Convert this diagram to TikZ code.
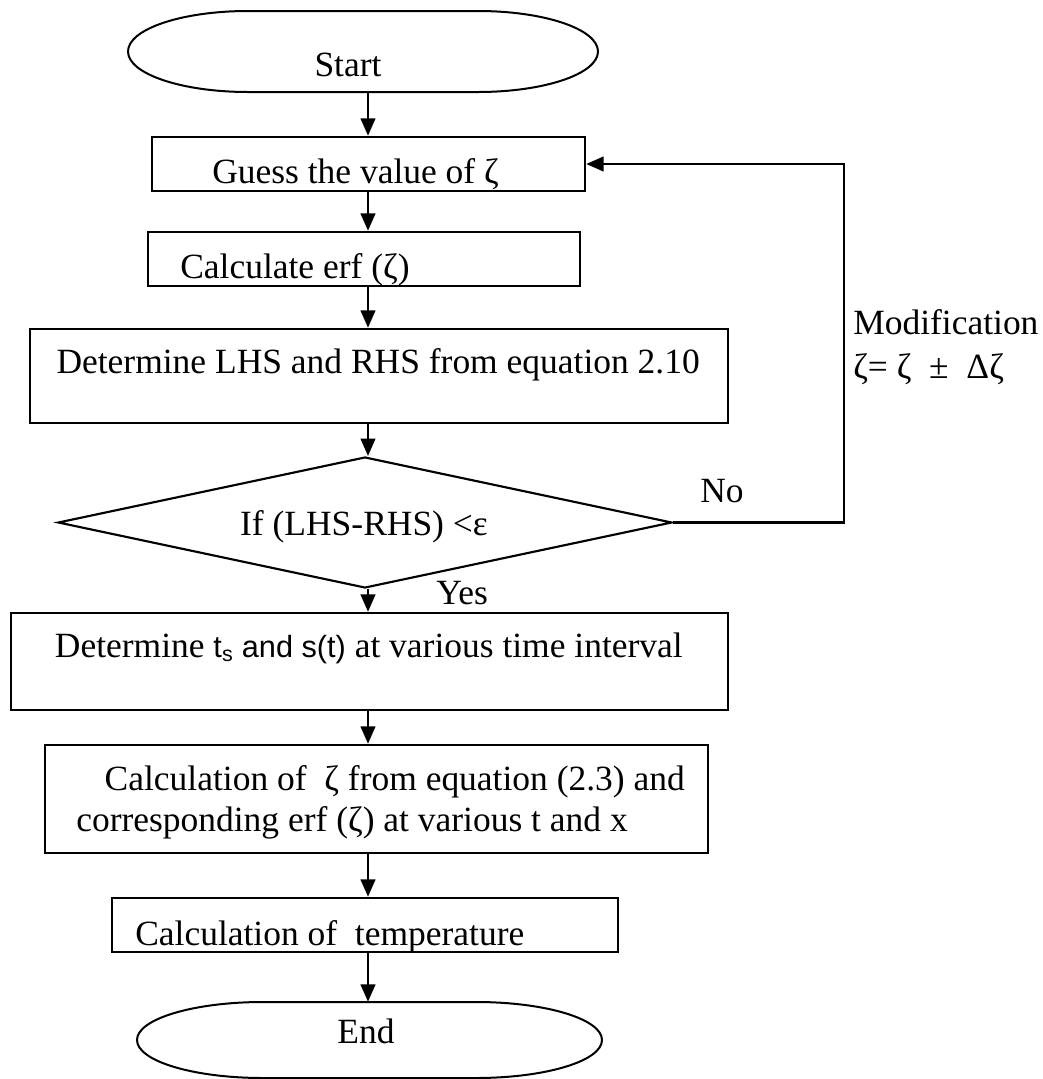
\documentclass[tikz,border=0pt]{standalone}
\usepackage{fontspec}
\setmainfont{Liberation Serif}
\newfontfamily\sansf{Liberation Sans}
\usetikzlibrary{shapes.geometric,arrows.meta}
\begin{document}
\begin{tikzpicture}[x=0.75pt,y=0.75pt,
  box/.style={draw, rectangle, line width=1.9pt, inner sep=0pt},
  term/.style={draw, line width=1.5pt},
  dec/.style={draw, diamond, line width=1.6pt, inner sep=0pt},
  ghost/.style={rectangle, draw=none, inner sep=0pt},
  txt/.style={font=\fontsize{26.6}{36}\selectfont, inner sep=0pt},
  arr/.style={line width=1.6pt, -{Triangle[length=13pt,width=11pt]}}]
\useasboundingbox (0,0) rectangle (1043,-1079);
\coordinate (axis) at (368,0);

% terminals
\node[ghost, minimum width=352.5pt, minimum height=60.75pt] (start) at (363,-51.5) {};
\draw[term] (248,-11) -- (478,-11) arc[start angle=90,end angle=-90,x radius=120,y radius=40.5]
  -- (248,-92) arc[start angle=270,end angle=90,x radius=120,y radius=40.5] -- cycle;
\node[ghost, minimum width=348.75pt, minimum height=57pt] (end) at (369.5,-1040) {};
\draw[term] (263,-1002) -- (476,-1002) arc[start angle=90,end angle=-90,x radius=126,y radius=38]
  -- (263,-1078) arc[start angle=270,end angle=90,x radius=126,y radius=38] -- cycle;

% boxes
\node[box, minimum width=324.75pt, minimum height=40.5pt] (b1) at (368.5,-164) {};
\node[box, minimum width=324pt, minimum height=40.5pt] (b2) at (364,-259) {};
\node[box, minimum width=523.5pt, minimum height=70.5pt] (b3) at (379,-376) {};
\node[dec, minimum width=460.5pt, minimum height=98.25pt] (dia) at (365,-522.5) {};
\node[box, minimum width=537.75pt, minimum height=72.75pt] (b4) at (369.5,-661.5) {};
\node[box, minimum width=497.25pt, minimum height=81pt] (b5) at (376.5,-799) {};
\node[box, minimum width=379.5pt, minimum height=40.5pt] (b6) at (365,-925) {};

% texts
\node[txt, anchor=base] (tstart) at (348,-76) {Start};
\node[txt, anchor=base west] (t1) at (212,-183) {Guess the value of ζ};
\node[txt, anchor=base west] (t2) at (180,-278) {Calculate erf (ζ)};
\node[txt, anchor=base east] (t3) at (700,-373) {Determine LHS and RHS from equation 2.10};
\node[txt, anchor=base] (td) at (364,-535) {If (LHS-RHS) <ε};
\node[txt, anchor=base east] (t4) at (683,-657) {Determine {\sansf\fontsize{23}{30}\selectfont t\textsubscript{s} and s(t)} at various time interval};
\node[txt, anchor=base east] (t5a) at (685,-790) {Calculation of\ \ ζ from equation (2.3) and};
\node[txt, anchor=base east] (t5b) at (628,-831) {corresponding erf (ζ) at various t and x};
\node[txt, anchor=base west] (t6) at (135,-945) {Calculation of\ \ temperature};
\node[txt, anchor=base] (tend) at (366,-1043) {End};
\node[txt, anchor=base west] (tno) at (700,-502) {No};
\node[txt, anchor=base west] (tyes) at (436,-604) {Yes};
\node[txt, anchor=base west] (tmod) at (853,-334) {Modification};
\node[txt, anchor=base west] (tmod2) at (853,-378) {ζ= ζ\ \ ±\ \ Δζ};

% connectors
\draw[arr] (start.south -| axis) -- (b1.north -| axis);
\draw[arr] (b1.south -| axis) -- (b2.north -| axis);
\draw[arr] (b2.south -| axis) -- (b3.north -| axis);
\draw[arr] (b3.south -| axis) -- (dia.north -| axis);
\draw[arr] (dia.south -| axis) -- (b4.north -| axis);
\draw[arr] (b4.south -| axis) -- (b5.north -| axis);
\draw[arr] (b5.south -| axis) -- (b6.north -| axis);
\draw[arr] (b6.south -| axis) -- (end.north -| axis);
\coordinate (loopc) at (844,-522.5);
\draw[arr] (dia.east) -- (loopc) |- (b1.east);
\end{tikzpicture}
\end{document}
